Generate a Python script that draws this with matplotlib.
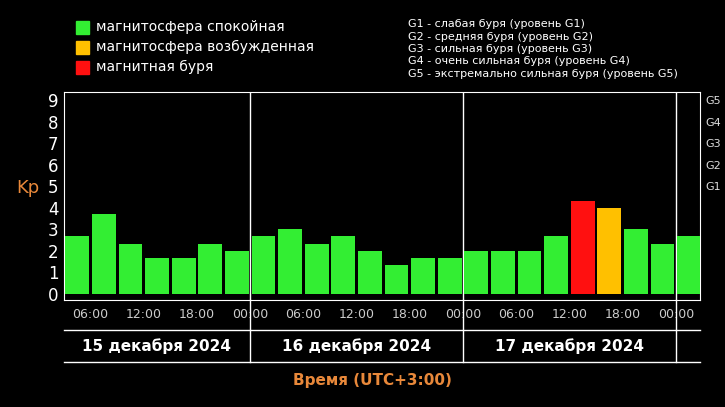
import matplotlib
matplotlib.use("Agg")
import matplotlib.pyplot as plt
from matplotlib.lines import Line2D
from matplotlib.patches import Rectangle

kp = [2.7, 3.7, 2.33, 1.67, 1.67, 2.33, 2.0,
      2.7, 3.0, 2.33, 2.7, 2.0, 1.33, 1.67, 1.67,
      2.0, 2.0, 2.0, 2.67, 4.33, 4.0, 3.0, 2.33,
      2.67]
status = ["q"]*19 + ["s", "a"] + ["q"]*3
colors = {"q": "#33ee33", "a": "#ffc000", "s": "#ff1010"}
tick_labels = ["06:00", "12:00", "18:00", "00:00"]*3
dates = ["15 декабря 2024", "16 декабря 2024", "17 декабря 2024"]
g_labels = ["G1", "G2", "G3", "G4", "G5"]
legend_items = ["магнитосфера спокойная", "магнитосфера возбужденная", "магнитная буря"]
g_desc = ["G1 - слабая буря (уровень G1)", "G2 - средняя буря (уровень G2)",
          "G3 - сильная буря (уровень G3)", "G4 - очень сильная буря (уровень G4)",
          "G5 - экстремально сильная буря (уровень G5)"]

W, H = 725, 407
fig = plt.figure(figsize=(7.25, 4.07), dpi=100, facecolor="black")
ax = fig.add_axes([64/W, 1-300/H, 636/W, 208/H], facecolor="black")
x0 = 3
xmax = x0 + 636/(26.6/3)
ax.set_xlim(x0, xmax)
ax.set_ylim(-0.28, 9.37)
xs = [4.5 + 3*i for i in range(len(kp))]
ax.bar(xs, kp, width=2.7, color=[colors[s] for s in status], zorder=3)
for d in (24, 48, 72):
    ax.axvline(d, color="white", lw=1)
for s in ax.spines.values():
    s.set_color("white")
ax.set_yticks(range(10))
ax.tick_params(axis="y", colors="white", labelsize=12, length=0, pad=4)
ax.set_xticks([6+6*i for i in range(12)])
ax.set_xticklabels(tick_labels)
ax.tick_params(axis="x", colors="white", labelsize=9, length=0, pad=6)
for lbl in ax.get_xticklabels():
    lbl.set_color("#cccccc")
ax2 = ax.twinx()
ax2.set_ylim(ax.get_ylim())
ax2.set_yticks([5, 6, 7, 8, 9])
ax2.set_yticklabels(g_labels)
ax2.tick_params(axis="y", colors="#dddddd", labelsize=8, length=0, pad=4)
for s in ax2.spines.values():
    s.set_visible(False)

def fx(px): return px/W
def fy(py): return 1-py/H
# date band lines
for py in (330, 362):
    fig.add_artist(Line2D([fx(64), fx(700)], [fy(py), fy(py)], color="white", lw=1))
for d in (24, 48, 72):
    px = 64 + (d-x0)*26.6/3
    fig.add_artist(Line2D([fx(px), fx(px)], [fy(300), fy(362)], color="white", lw=1))
for i, t in enumerate(dates):
    cx = 64 + ((24*i+12) - x0)*26.6/3 if i > 0 else (64+250)/2
    fig.text(fx(cx), fy(346), t, color="white", fontsize=11, fontweight="bold",
             ha="center", va="center")
fig.text(fx(372), fy(381), "Время (UTC+3:00)", color="#e8883a", fontsize=11,
         fontweight="bold", ha="center", va="center")
fig.text(fx(28), fy(188), "Kp", color="#e8883a", fontsize=13, ha="center", va="center")
for i, (t, c) in enumerate(zip(legend_items, ["q", "a", "s"])):
    py = 27 + 20*i
    fig.add_artist(Rectangle((fx(76), fy(py+7)), 13/W, 13/H, color=colors[c]))
    fig.text(fx(96), fy(py), t, color="white", fontsize=10, va="center")
for i, t in enumerate(g_desc):
    fig.text(fx(408), fy(24+12.5*i), t, color="white", fontsize=8, va="center")
fig.savefig("out.png", dpi=100, facecolor="black")
